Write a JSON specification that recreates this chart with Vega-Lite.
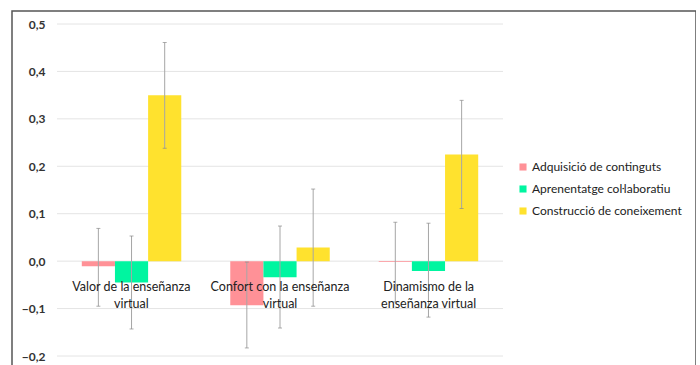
{
  "$schema": "https://vega.github.io/schema/vega-lite/v6.json",
  "width": 684,
  "height": 372,
  "autosize": "none",
  "padding": {"left": 12, "top": 11, "right": 0, "bottom": 0},
  "background": "white",
  "config": {
    "view": {"stroke": "#555555", "strokeWidth": 1.5},
    "font": "Lato"
  },
  "datasets": {
    "bars": [
      {"cat": "Valor de la enseñanza virtual", "label": "Valor de la enseñanza\nvirtual", "serie": "Adquisició de continguts", "mean": -0.011, "lo": -0.095, "hi": 0.069},
      {"cat": "Valor de la enseñanza virtual", "label": "Valor de la enseñanza\nvirtual", "serie": "Aprenentatge coŀlaboratiu", "mean": -0.045, "lo": -0.143, "hi": 0.053},
      {"cat": "Valor de la enseñanza virtual", "label": "Valor de la enseñanza\nvirtual", "serie": "Construcció de coneixement", "mean": 0.35, "lo": 0.238, "hi": 0.461},
      {"cat": "Confort con la enseñanza virtual", "label": "Confort con la enseñanza\nvirtual", "serie": "Adquisició de continguts", "mean": -0.093, "lo": -0.183, "hi": -0.002},
      {"cat": "Confort con la enseñanza virtual", "label": "Confort con la enseñanza\nvirtual", "serie": "Aprenentatge coŀlaboratiu", "mean": -0.034, "lo": -0.141, "hi": 0.074},
      {"cat": "Confort con la enseñanza virtual", "label": "Confort con la enseñanza\nvirtual", "serie": "Construcció de coneixement", "mean": 0.029, "lo": -0.095, "hi": 0.152},
      {"cat": "Dinamismo de la enseñanza virtual", "label": "Dinamismo de la\nenseñanza virtual", "serie": "Adquisició de continguts", "mean": -0.002, "lo": -0.086, "hi": 0.082},
      {"cat": "Dinamismo de la enseñanza virtual", "label": "Dinamismo de la\nenseñanza virtual", "serie": "Aprenentatge coŀlaboratiu", "mean": -0.021, "lo": -0.118, "hi": 0.08},
      {"cat": "Dinamismo de la enseñanza virtual", "label": "Dinamismo de la\nenseñanza virtual", "serie": "Construcció de coneixement", "mean": 0.225, "lo": 0.111, "hi": 0.339}
    ],
    "ticks": [
      {"v": -0.2}, {"v": -0.1}, {"v": 0.0}, {"v": 0.1}, {"v": 0.2}, {"v": 0.3}, {"v": 0.4}, {"v": 0.5}
    ]
  },
  "resolve": {"scale": {"x": "independent"}},
  "layer": [
    {
      "data": {"name": "ticks"},
      "mark": {"type": "rule", "color": "#e4e4e4", "strokeWidth": 1},
      "encoding": {
        "x": {"datum": 0, "type": "quantitative", "scale": {"domain": [0, 1], "range": [45, 491]}, "axis": null},
        "x2": {"datum": 1},
        "y": {
          "field": "v", "type": "quantitative",
          "scale": {"domain": [-0.2, 0.5], "range": [345, 13], "nice": false, "zero": false},
          "axis": {
            "orient": "left", "offset": -35, "grid": false, "domain": false, "ticks": false,
            "labelPadding": 2, "values": [-0.2, -0.1, 0, 0.1, 0.2, 0.3, 0.4, 0.5],
            "labelExpr": "replace(format(datum.value, '.1f'), '.', ',')",
            "labelFontSize": 12, "labelFontWeight": "bold", "labelColor": "#333333",
            "title": null
          }
        }
      }
    },
    {
      "data": {"name": "bars"},
      "mark": {"type": "bar"},
      "encoding": {
        "x": {"field": "cat", "type": "nominal", "sort": null, "scale": {"range": [45, 491], "paddingInner": 0.33, "paddingOuter": 0.167}, "axis": null},
        "xOffset": {"field": "serie", "type": "nominal", "scale": {"paddingInner": 0, "paddingOuter": 0}},
        "y": {"field": "mean", "type": "quantitative"},
        "y2": {"datum": 0},
        "color": {
          "field": "serie", "type": "nominal",
          "scale": {"domain": ["Adquisició de continguts", "Aprenentatge coŀlaboratiu", "Construcció de coneixement"], "range": ["#ff9197", "#00f5a0", "#ffe22e"]},
          "legend": {
            "orient": "none", "legendX": 505, "legendY": 150, "title": null,
            "symbolType": "square", "symbolSize": 50, "symbolStrokeWidth": 0,
            "labelFontSize": 12, "labelColor": "#222222", "rowPadding": 10, "labelOffset": 3, "padding": 0
          }
        }
      }
    },
    {
      "data": {"name": "bars"},
      "mark": {"type": "rule", "color": "#a6a6a6", "strokeWidth": 1},
      "encoding": {
        "x": {"field": "cat", "type": "nominal", "sort": null, "scale": {"range": [45, 491], "paddingInner": 0.33, "paddingOuter": 0.167}, "axis": null},
        "xOffset": {"field": "serie", "type": "nominal", "scale": {"paddingInner": 0, "paddingOuter": 0}},
        "y": {"field": "lo", "type": "quantitative"},
        "y2": {"field": "hi"}
      }
    },
    {
      "data": {"name": "bars"},
      "mark": {"type": "tick", "color": "#8a8a8a", "orient": "horizontal", "size": 4, "thickness": 1},
      "encoding": {
        "x": {"field": "cat", "type": "nominal", "sort": null, "scale": {"range": [45, 491], "paddingInner": 0.33, "paddingOuter": 0.167}, "axis": null},
        "xOffset": {"field": "serie", "type": "nominal", "scale": {"paddingInner": 0, "paddingOuter": 0}},
        "y": {"field": "lo", "type": "quantitative"}
      }
    },
    {
      "data": {"name": "bars"},
      "mark": {"type": "tick", "color": "#8a8a8a", "orient": "horizontal", "size": 4, "thickness": 1},
      "encoding": {
        "x": {"field": "cat", "type": "nominal", "sort": null, "scale": {"range": [45, 491], "paddingInner": 0.33, "paddingOuter": 0.167}, "axis": null},
        "xOffset": {"field": "serie", "type": "nominal", "scale": {"paddingInner": 0, "paddingOuter": 0}},
        "y": {"field": "hi", "type": "quantitative"}
      }
    },
    {
      "data": {"name": "bars"},
      "transform": [{"filter": "datum.serie === 'Aprenentatge coŀlaboratiu'"}],
      "mark": {"type": "text", "lineBreak": "\n", "baseline": "alphabetic", "align": "center", "dy": 30, "fontSize": 12.5, "lineHeight": 16.5, "color": "#222222"},
      "encoding": {
        "x": {"field": "cat", "type": "nominal", "sort": null, "scale": {"range": [45, 491], "paddingInner": 0.33, "paddingOuter": 0.167}, "axis": null},
        "y": {"datum": 0, "type": "quantitative"},
        "text": {"field": "label"}
      }
    }
  ]
}
